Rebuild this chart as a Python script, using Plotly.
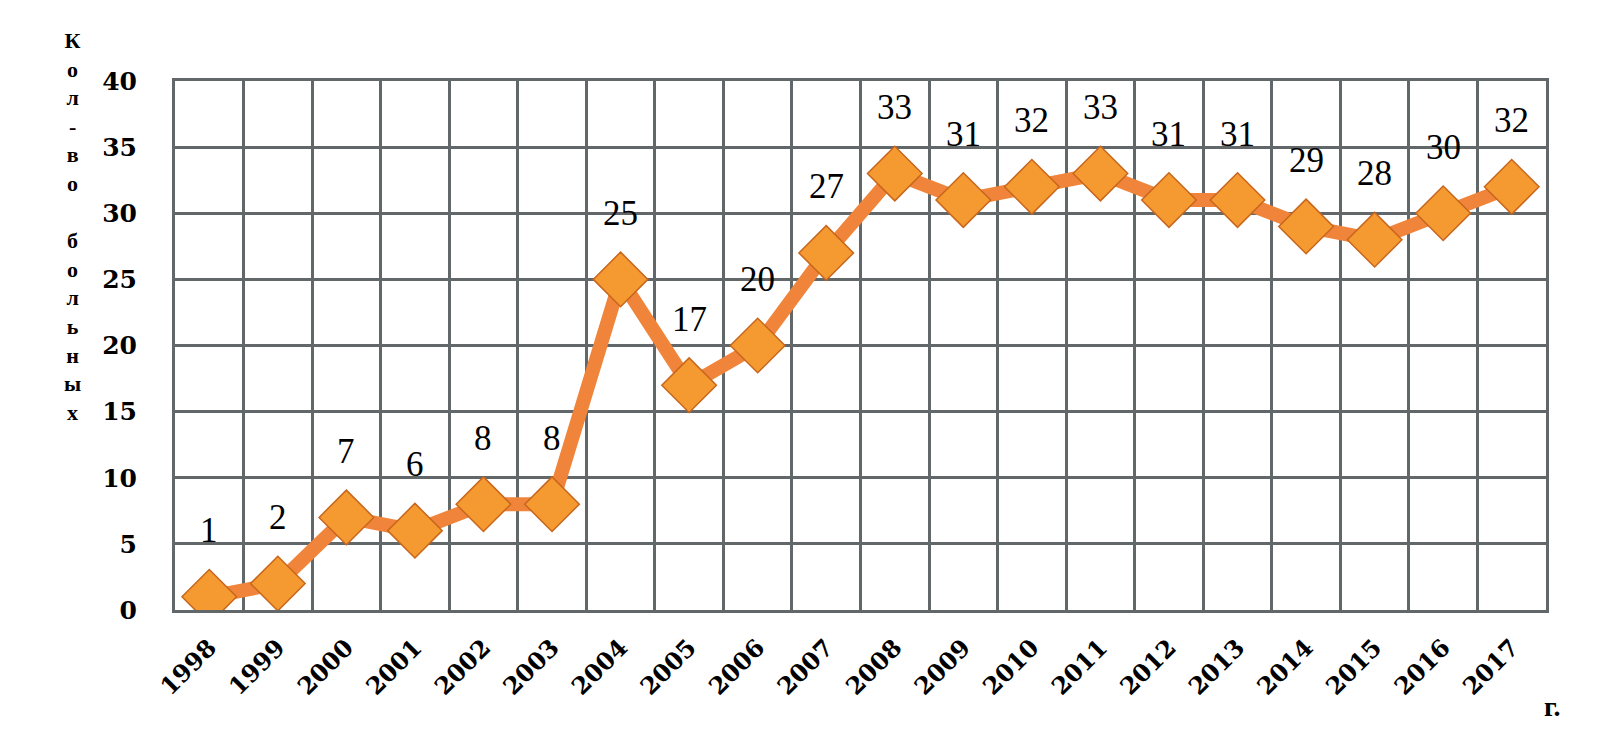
import plotly.graph_objects as go

years = [str(y) for y in range(1998, 2018)]
patients = [1, 2, 7, 6, 8, 8, 25, 17, 20, 27, 33, 31, 32, 33, 31, 31, 29, 28, 30, 32]
y_ticks = [0, 5, 10, 15, 20, 25, 30, 35, 40]
y_title_letters = ["К", "о", "л", "-", "в", "о", "&nbsp;", "б", "о", "л", "ь", "н", "ы", "х"]

serif = "Liberation Serif, Times New Roman, serif"
tickserif = "DejaVu Serif, serif"
grid_col = "#62676a"

L, R, T, B = 167, 78, 73, 141
W, H = 1616, 743
plot_top_px, plot_bot_px = 80, 610

fig = go.Figure()
fig.add_trace(go.Scatter(
    x=list(range(len(years))), y=patients, mode="lines+markers",
    line=dict(color="#F0843A", width=14),
    marker=dict(symbol="diamond", size=42, color="#F59A30",
                line=dict(color="#C8661C", width=1.5)),
    hoverinfo="y", showlegend=False,
))

for i, v in enumerate(patients):
    fig.add_annotation(x=i, y=v, text=str(v), showarrow=False, yshift=66,
                       font=dict(family=serif, size=35, color="black"))

# vertical stacked y-axis title (one text, letters one per line)
center_px = (55 + 397) / 2
fig.add_annotation(xref="paper", yref="paper", x=-0.075, xanchor="center",
                   y=(plot_bot_px - center_px) / (plot_bot_px - plot_top_px), yanchor="middle",
                   text="<br>".join(y_title_letters), showarrow=False, align="center",
                   font=dict(family=serif, size=22, color="black", weight="bold"))

fig.add_annotation(xref="paper", yref="paper", x=0.997, y=-0.215, xanchor="left",
                   text="г.", showarrow=False,
                   font=dict(family=serif, size=28, color="black", weight="bold"))

fig.update_layout(
    width=W, height=H,
    margin=dict(l=L, r=R, t=T, b=B),
    paper_bgcolor="white", plot_bgcolor="white",
    xaxis=dict(tickmode="array", tickvals=list(range(len(years))), ticktext=years,
               showgrid=False, ticks="", zeroline=False,
               tickangle=-45, showline=True, linecolor=grid_col, linewidth=3,
               mirror=True, range=[-0.5, len(years) - 0.5], ticklabelstandoff=11,
               tickfont=dict(family=tickserif, size=24, color="black", weight="bold"),
               minor=dict(tickmode="array",
                          tickvals=[i + 0.5 for i in range(len(years) - 1)],
                          showgrid=True, gridcolor=grid_col, gridwidth=3, ticks="")),
    yaxis=dict(range=[0, 40], tickvals=y_ticks, showgrid=True,
               gridcolor=grid_col, gridwidth=3, zeroline=False,
               showline=True, linecolor=grid_col, linewidth=3, mirror=True,
               ticks="", ticklabelstandoff=30,
               tickfont=dict(family=tickserif, size=25, color="black", weight="bold")),
)

fig.write_html("out.html")
